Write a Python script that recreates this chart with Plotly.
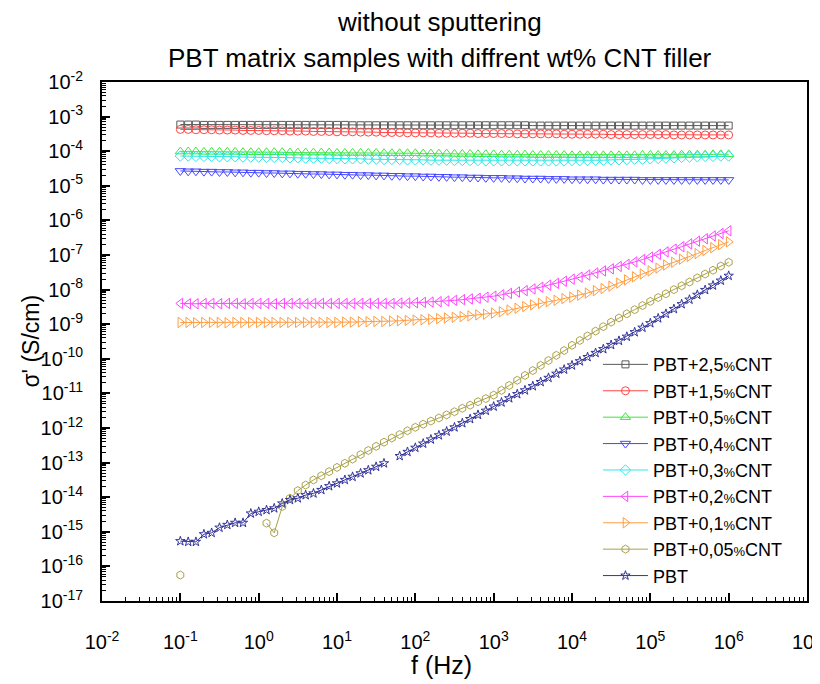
import plotly.graph_objects as go

# Frequencies (Hz), 10 points per decade
freq = [0.1, 0.126, 0.158, 0.2, 0.251, 0.316, 0.398, 0.501, 0.631, 0.794,
        1, 1.26, 1.58, 2, 2.51, 3.16, 3.98, 5.01, 6.31, 7.94,
        10, 12.6, 15.8, 20, 25.1, 31.6, 39.8, 50.1, 63.1, 79.4,
        100, 126, 158, 200, 251, 316, 398, 501, 631, 794,
        1e3, 1.26e3, 1.58e3, 2e3, 2.51e3, 3.16e3, 3.98e3, 5.01e3, 6.31e3, 7.94e3,
        1e4, 1.26e4, 1.58e4, 2e4, 2.51e4, 3.16e4, 3.98e4, 5.01e4, 6.31e4, 7.94e4,
        1e5, 1.26e5, 1.58e5, 2e5, 2.51e5, 3.16e5, 3.98e5, 5.01e5, 6.31e5, 7.94e5,
        1e6]

# log10 of sigma' (S/cm) for each sample
log_pbt_2_5 = [-3.23, -3.23, -3.23, -3.24, -3.24, -3.24, -3.24, -3.24, -3.24, -3.24,
               -3.24, -3.24, -3.24, -3.24, -3.24, -3.24, -3.24, -3.24, -3.24, -3.24,
               -3.24, -3.24, -3.25, -3.25, -3.25, -3.25, -3.25, -3.25, -3.25, -3.25,
               -3.25, -3.25, -3.25, -3.25, -3.25, -3.25, -3.25, -3.25, -3.25, -3.25,
               -3.25, -3.25, -3.25, -3.25, -3.25, -3.26, -3.26, -3.26, -3.26, -3.26,
               -3.26, -3.26, -3.26, -3.26, -3.26, -3.26, -3.26, -3.26, -3.26, -3.26,
               -3.26, -3.26, -3.26, -3.26, -3.26, -3.26, -3.26, -3.26, -3.26, -3.26, -3.26]
log_pbt_1_5 = [-3.37, -3.37, -3.38, -3.38, -3.38, -3.39, -3.39, -3.39, -3.40, -3.40,
               -3.40, -3.41, -3.41, -3.41, -3.42, -3.42, -3.42, -3.43, -3.43, -3.43,
               -3.44, -3.44, -3.44, -3.45, -3.45, -3.45, -3.46, -3.46, -3.46, -3.47,
               -3.47, -3.47, -3.47, -3.48, -3.48, -3.48, -3.48, -3.48, -3.49, -3.49,
               -3.49, -3.49, -3.49, -3.50, -3.50, -3.50, -3.50, -3.50, -3.50, -3.51,
               -3.51, -3.51, -3.51, -3.51, -3.51, -3.52, -3.52, -3.52, -3.52, -3.52,
               -3.52, -3.52, -3.52, -3.53, -3.53, -3.53, -3.53, -3.53, -3.53, -3.53, -3.53]
log_pbt_0_5 = [-4.01, -4.01, -4.01, -4.02, -4.02, -4.02, -4.02, -4.02, -4.03, -4.03,
               -4.03, -4.03, -4.03, -4.03, -4.04, -4.04, -4.04, -4.04, -4.04, -4.04,
               -4.05, -4.05, -4.05, -4.05, -4.05, -4.05, -4.06, -4.06, -4.06, -4.06,
               -4.06, -4.07, -4.07, -4.07, -4.07, -4.08, -4.08, -4.08, -4.09, -4.09,
               -4.09, -4.10, -4.10, -4.10, -4.10, -4.11, -4.11, -4.11, -4.11, -4.11,
               -4.12, -4.12, -4.12, -4.12, -4.12, -4.12, -4.12, -4.12, -4.12, -4.11,
               -4.11, -4.11, -4.11, -4.11, -4.10, -4.10, -4.10, -4.10, -4.09, -4.09, -4.09]
log_pbt_0_4 = [-4.57, -4.58, -4.58, -4.59, -4.59, -4.60, -4.60, -4.61, -4.61, -4.62,
               -4.62, -4.63, -4.63, -4.64, -4.64, -4.65, -4.65, -4.66, -4.66, -4.67,
               -4.67, -4.68, -4.68, -4.69, -4.69, -4.70, -4.70, -4.71, -4.71, -4.72,
               -4.72, -4.73, -4.73, -4.74, -4.74, -4.75, -4.75, -4.76, -4.76, -4.77,
               -4.77, -4.77, -4.78, -4.78, -4.79, -4.79, -4.79, -4.80, -4.80, -4.80,
               -4.81, -4.81, -4.81, -4.81, -4.82, -4.82, -4.82, -4.82, -4.82, -4.83,
               -4.83, -4.83, -4.83, -4.83, -4.83, -4.83, -4.83, -4.83, -4.83, -4.83, -4.83]
log_pbt_0_3 = [-4.14, -4.14, -4.15, -4.15, -4.15, -4.16, -4.16, -4.16, -4.17, -4.17,
               -4.17, -4.18, -4.18, -4.18, -4.19, -4.19, -4.20, -4.20, -4.20, -4.21,
               -4.21, -4.22, -4.22, -4.22, -4.23, -4.23, -4.24, -4.24, -4.24, -4.25,
               -4.25, -4.25, -4.26, -4.26, -4.26, -4.27, -4.27, -4.27, -4.27, -4.28,
               -4.28, -4.28, -4.28, -4.28, -4.28, -4.28, -4.28, -4.28, -4.28, -4.28,
               -4.27, -4.27, -4.27, -4.26, -4.26, -4.25, -4.25, -4.24, -4.23, -4.23,
               -4.22, -4.21, -4.20, -4.19, -4.18, -4.17, -4.16, -4.15, -4.15, -4.14, -4.14]
log_pbt_0_2 = [-8.40, -8.41, -8.41, -8.40, -8.40, -8.41, -8.40, -8.40, -8.41, -8.40,
               -8.40, -8.40, -8.41, -8.40, -8.40, -8.40, -8.41, -8.40, -8.40, -8.40,
               -8.40, -8.40, -8.40, -8.40, -8.40, -8.40, -8.40, -8.40, -8.39, -8.39,
               -8.38, -8.37, -8.36, -8.35, -8.33, -8.31, -8.29, -8.27, -8.25, -8.22,
               -8.19, -8.15, -8.11, -8.07, -8.03, -7.98, -7.93, -7.87, -7.82, -7.76,
               -7.70, -7.64, -7.58, -7.52, -7.46, -7.40, -7.33, -7.27, -7.20, -7.13,
               -7.06, -6.98, -6.91, -6.83, -6.76, -6.68, -6.60, -6.53, -6.45, -6.38, -6.30]
log_pbt_0_1 = [-8.95, -8.95, -8.96, -8.95, -8.95, -8.95, -8.96, -8.95, -8.95, -8.95,
               -8.95, -8.95, -8.95, -8.95, -8.95, -8.95, -8.95, -8.95, -8.95, -8.95,
               -8.95, -8.94, -8.94, -8.93, -8.93, -8.92, -8.92, -8.91, -8.90, -8.89,
               -8.88, -8.87, -8.86, -8.84, -8.82, -8.80, -8.78, -8.76, -8.73, -8.71,
               -8.68, -8.64, -8.59, -8.54, -8.49, -8.44, -8.40, -8.35, -8.31, -8.26,
               -8.22, -8.16, -8.10, -8.03, -7.97, -7.90, -7.81, -7.72, -7.63, -7.55,
               -7.46, -7.38, -7.29, -7.21, -7.12, -7.04, -6.96, -6.87, -6.79, -6.70, -6.62]
log_pbt_0_05 = [-16.25, None, None, None, None, None, None, None, None, None,
                None, -14.75, -15.03, -14.27, -14.03, -13.81, -13.65, -13.50, -13.38, -13.26,
                -13.14, -13.02, -12.90, -12.77, -12.65, -12.53, -12.41, -12.29, -12.19, -12.08,
                -11.98, -11.89, -11.80, -11.71, -11.62, -11.53, -11.43, -11.34, -11.24, -11.15,
                -11.05, -10.91, -10.77, -10.62, -10.48, -10.34, -10.19, -10.05, -9.90, -9.76,
                -9.61, -9.47, -9.34, -9.20, -9.07, -8.94, -8.82, -8.70, -8.58, -8.46,
                -8.34, -8.23, -8.12, -8.00, -7.89, -7.78, -7.66, -7.55, -7.44, -7.32, -7.21]
log_pbt = [-15.27, -15.29, -15.29, -15.07, -15.03, -14.88, -14.80, -14.74, -14.74, -14.47,
           -14.42, -14.37, -14.32, -14.18, -14.08, -14.03, -13.94, -13.89, -13.79, -13.68,
           -13.60, -13.50, -13.41, -13.31, -13.22, -13.12, -13.02, None, -12.81, -12.69,
           -12.57, -12.45, -12.33, -12.21, -12.10, -11.98, -11.86, -11.74, -11.62, -11.50,
           -11.38, -11.26, -11.14, -11.02, -10.91, -10.79, -10.67, -10.55, -10.43, -10.31,
           -10.19, -10.07, -9.95, -9.83, -9.72, -9.60, -9.48, -9.36, -9.23, -9.10,
           -8.97, -8.83, -8.70, -8.56, -8.42, -8.29, -8.15, -8.01, -7.88, -7.74, -7.60]

series_names = ["PBT+2,5%CNT", "PBT+1,5%CNT", "PBT+0,5%CNT", "PBT+0,4%CNT",
                "PBT+0,3%CNT", "PBT+0,2%CNT", "PBT+0,1%CNT", "PBT+0,05%CNT", "PBT"]
series_logs = [log_pbt_2_5, log_pbt_1_5, log_pbt_0_5, log_pbt_0_4, log_pbt_0_3,
               log_pbt_0_2, log_pbt_0_1, log_pbt_0_05, log_pbt]

x_tick_exps = [-2, -1, 0, 1, 2, 3, 4, 5, 6, 7]
y_tick_exps = [-2, -3, -4, -5, -6, -7, -8, -9, -10, -11, -12, -13, -14, -15, -16, -17]

colors = ["#5a5a5a", "#ff4646", "#3ee63e", "#4646ff", "#2ee6e6",
          "#ff46ff", "#ff9d42", "#aaa24a", "#34349a"]
symbols = ["square-open", "circle-open", "triangle-up-open", "triangle-down-open",
           "diamond-open", "triangle-left-open", "triangle-right-open",
           "hexagon-open", "star-open"]
sizes = [7, 8, 9, 9, 8, 9, 9, 8, 7]

FONT = "Arial, Liberation Sans, sans-serif"


def legend_label(name):
    if "%" in name:
        a, b = name.split("%")
        return a + "<span style='font-size:13px'>%</span>" + b
    return name


fig = go.Figure()
for name, logs, col, sym, sz in zip(series_names, series_logs, colors, symbols, sizes):
    yvals = [None if v is None else 10 ** v for v in logs]
    fig.add_trace(go.Scatter(
        x=freq, y=yvals, mode="lines+markers", name=legend_label(name),
        line=dict(color=col, width=1),
        marker=dict(symbol=sym, size=sz, color=col, line=dict(color=col, width=1)),
        connectgaps=False,
    ))

axis_common = dict(
    type="log", showgrid=False, zeroline=False, automargin=False,
    showline=True, linecolor="black", linewidth=2, mirror=True,
    ticks="inside", ticklen=8, tickwidth=1.5, tickcolor="black",
    tickfont=dict(family=FONT, size=20, color="black"),
    ticklabeloverflow="allow",
    minor=dict(ticks="inside", ticklen=4, tickwidth=1, tickcolor="black",
               dtick="D1", showgrid=False),
)

fig.update_xaxes(
    **axis_common,
    range=[-2, 7],
    tickmode="array",
    tickvals=[10 ** e for e in x_tick_exps],
    ticktext=["10<sup>%d</sup>" % e for e in x_tick_exps],
    ticklabelstandoff=22,
)
fig.update_yaxes(
    **axis_common,
    range=[-17, -2],
    tickmode="array",
    tickvals=[10 ** e for e in y_tick_exps],
    ticktext=["10<sup>%d</sup>" % e for e in y_tick_exps],
    ticklabelstandoff=13,
)

# The page body adds an 8px offset, so the figure is 812x676 and the
# plot area lands at x 102-807, y 82-601 in the 820x684 window.
fig.update_layout(
    width=812, height=676,
    margin=dict(l=94, r=13, t=74, b=83),
    paper_bgcolor="white", plot_bgcolor="white",
    font=dict(family=FONT, color="black"),
    showlegend=True,
    legend=dict(
        x=0.7035, y=0.491, xanchor="left", yanchor="top",
        bgcolor="rgba(255,255,255,0)", borderwidth=0,
        font=dict(family=FONT, size=18, color="black"),
        itemwidth=45, tracegroupgap=0, itemsizing="trace",
    ),
    annotations=[
        dict(text="without sputtering", x=0.479, y=1.1156, xref="paper", yref="paper",
             xanchor="center", yanchor="middle", showarrow=False,
             font=dict(family=FONT, size=26, color="black")),
        dict(text="PBT matrix samples with diffrent wt% CNT filler", x=0.479, y=1.046,
             xref="paper", yref="paper", xanchor="center", yanchor="middle",
             showarrow=False, font=dict(family=FONT, size=26, color="black")),
        dict(text="f (Hz)", x=0.482, y=-0.123, xref="paper", yref="paper",
             xanchor="center", yanchor="middle", showarrow=False,
             font=dict(family=FONT, size=25, color="black")),
        dict(text="σ' (S/cm)", x=-0.102, y=0.5, xref="paper", yref="paper",
             xanchor="center", yanchor="middle", showarrow=False, textangle=-90,
             font=dict(family=FONT, size=23, color="black")),
    ],
)

fig.write_html("out.html")
